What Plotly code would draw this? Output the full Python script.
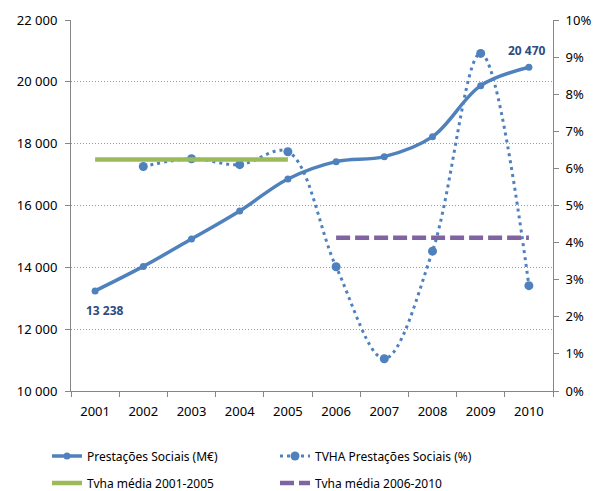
import plotly.graph_objects as go

# valores
anos = ["2001", "2002", "2003", "2004", "2005", "2006", "2007", "2008", "2009", "2010"]
prestacoes = [13238, 14030, 14917, 15823, 16858, 17418, 17580, 18227, 19877, 20470]
tvha = [None, 0.0605, 0.0626, 0.0610, 0.0645, 0.0335, 0.0087, 0.0377, 0.0910, 0.0284]
anos_1 = ["2001", "2002", "2003", "2004", "2005"]
media_1 = [0.0624, 0.0624, 0.0624, 0.0624, 0.0624]
anos_2 = ["2006", "2007", "2008", "2009", "2010"]
media_2 = [0.0413, 0.0413, 0.0413, 0.0413, 0.0413]

AZUL = "#4f81bd"
VERDE = "#9bbb59"
ROXO = "#8064a2"
CINZA = "#868686"
FONTE = "Noto Sans"

fig = go.Figure()

fig.add_trace(go.Scatter(
    x=anos, y=prestacoes, name="Prestações Sociais (M€)",
    mode="lines+markers", line=dict(color=AZUL, width=3.5, shape="spline"),
    marker=dict(size=7, color=AZUL), legend="legend",
))
fig.add_trace(go.Scatter(
    x=anos, y=tvha, name="TVHA Prestações Sociais (%)", yaxis="y2",
    mode="lines+markers",
    line=dict(color=AZUL, width=3, shape="spline", dash="3px,4px"),
    marker=dict(size=9, color=AZUL), legend="legend",
))
fig.add_trace(go.Scatter(
    x=anos_1, y=media_1, name="Tvha média 2001-2005", yaxis="y2",
    mode="lines", line=dict(color=VERDE, width=4.5), legend="legend2",
))
fig.add_trace(go.Scatter(
    x=anos_2, y=media_2, name="Tvha média 2006-2010", yaxis="y2",
    mode="lines", line=dict(color=ROXO, width=4.5, dash="14px,5px"),
    legend="legend2",
))

# rótulos de dados (primeiro e último ano)
i0, i1 = 0, len(anos) - 1
fig.add_annotation(x=i0, y=prestacoes[i0], text="<b>13 238</b>",
                   showarrow=False, xshift=10, yshift=-20,
                   font=dict(family=FONTE, size=12, color="#2c4d7f"))
fig.add_annotation(x=i1, y=prestacoes[i1], text="<b>20 470</b>",
                   showarrow=False, xshift=-2, yshift=17,
                   font=dict(family=FONTE, size=12, color="#2c4d7f"))

leg = dict(
    orientation="h", xref="container", x=0.0786, xanchor="left",
    yref="container", yanchor="middle",
    entrywidth=183, entrywidthmode="pixels",
    font=dict(size=12), bgcolor="rgba(0,0,0,0)",
)

fig.update_layout(
    width=598, height=491,
    margin=dict(l=71, r=45, t=20, b=100),
    paper_bgcolor="white", plot_bgcolor="white",
    separators=", ",
    font=dict(family=FONTE, size=13, color="#000000"),
    xaxis=dict(
        type="category", range=[-0.5, 9.5], tickson="boundaries",
        ticks="outside", ticklen=5, tickcolor=CINZA, automargin=False,
        showline=True, linecolor=CINZA, linewidth=1, showgrid=False,
        tickfont=dict(size=13), ticklabelstandoff=8,
    ),
    yaxis=dict(
        range=[10000, 22000], dtick=2000, tickformat=",d", automargin=False,
        ticks="outside", ticklen=5, tickcolor=CINZA, ticklabelstandoff=5,
        showline=True, linecolor=CINZA, linewidth=1,
        showgrid=True, gridcolor="#9a9a9a", griddash="1px,2px", gridwidth=1,
        zeroline=False, tickfont=dict(size=13),
    ),
    yaxis2=dict(
        overlaying="y", side="right", range=[0, 0.10], dtick=0.01,
        tickformat=".0%", ticks="outside", ticklen=5, tickcolor=CINZA,
        showline=True, linecolor=CINZA, linewidth=1, showgrid=False,
        zeroline=False, tickfont=dict(size=13), automargin=False,
        ticklabelstandoff=4,
    ),
    legend=dict(leg, y=0.0713),
    legend2=dict(leg, y=0.0163),
)

fig.write_html("out.html", config={"displayModeBar": False},
               post_script="document.body.style.margin='0';")
